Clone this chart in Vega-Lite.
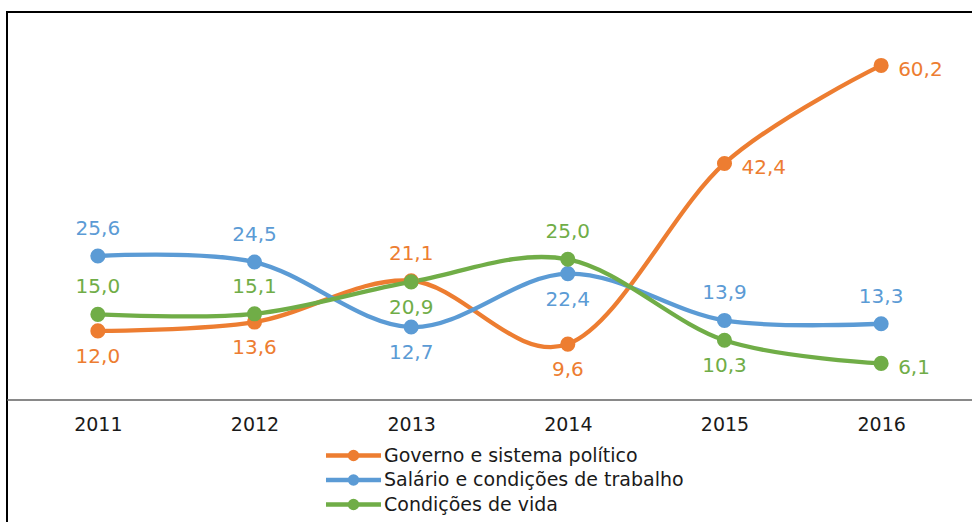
{
  "$schema": "https://vega.github.io/schema/vega-lite/v6.json",
  "width": 965,
  "height": 510,
  "autosize": "none",
  "padding": {"left": 7, "top": 12, "right": 0, "bottom": 0},
  "config": {
    "view": {"stroke": "#000000", "strokeWidth": 2, "strokeDash": [965, 1475, 520]},
    "font": "DejaVu Sans",
    "locale": {"number": {"decimal": ",", "thousands": ".", "grouping": [3], "currency": ["", ""]}}
  },
  "data": {
    "values": [
      {"serie": "Governo e sistema político", "ano": "2011", "valor": 12.0},
      {"serie": "Governo e sistema político", "ano": "2012", "valor": 13.6},
      {"serie": "Governo e sistema político", "ano": "2013", "valor": 21.1},
      {"serie": "Governo e sistema político", "ano": "2014", "valor": 9.6},
      {"serie": "Governo e sistema político", "ano": "2015", "valor": 42.4},
      {"serie": "Governo e sistema político", "ano": "2016", "valor": 60.2},
      {"serie": "Salário e condições de trabalho", "ano": "2011", "valor": 25.6},
      {"serie": "Salário e condições de trabalho", "ano": "2012", "valor": 24.5},
      {"serie": "Salário e condições de trabalho", "ano": "2013", "valor": 12.7},
      {"serie": "Salário e condições de trabalho", "ano": "2014", "valor": 22.4},
      {"serie": "Salário e condições de trabalho", "ano": "2015", "valor": 13.9},
      {"serie": "Salário e condições de trabalho", "ano": "2016", "valor": 13.3},
      {"serie": "Condições de vida", "ano": "2011", "valor": 15.0},
      {"serie": "Condições de vida", "ano": "2012", "valor": 15.1},
      {"serie": "Condições de vida", "ano": "2013", "valor": 20.9},
      {"serie": "Condições de vida", "ano": "2014", "valor": 25.0},
      {"serie": "Condições de vida", "ano": "2015", "valor": 10.3},
      {"serie": "Condições de vida", "ano": "2016", "valor": 6.1}
    ]
  },
  "encoding": {
    "x": {
      "field": "ano",
      "type": "ordinal",
      "scale": {"type": "point", "padding": 0.58},
      "axis": {
        "title": null,
        "orient": "bottom",
        "offset": -122.5,
        "labelAngle": 0,
        "ticks": false,
        "domainColor": "#898989",
        "domainWidth": 2,
        "labelFontSize": 19,
        "labelColor": "#1a1a1a",
        "labelPadding": 16,
        "grid": false
      }
    },
    "y": {
      "field": "valor",
      "type": "quantitative",
      "scale": {"domain": [-22.7, 69.9], "nice": false, "zero": false},
      "axis": null
    },
    "color": {
      "field": "serie",
      "type": "nominal",
      "scale": {
        "domain": ["Governo e sistema político", "Salário e condições de trabalho", "Condições de vida"],
        "range": ["#ED7D31", "#5B9BD5", "#70AD47"]
      },
      "legend": {
        "title": null,
        "orient": "none",
        "legendX": 337,
        "legendY": 434,
        "labelFontSize": 19,
        "labelColor": "#1a1a1a",
        "labelOffset": 21,
        "labelLimit": 0,
        "rowPadding": -2.5,
        "symbolType": "M-4.08,0H4.08M0.148,0A0.148,0.148 0 1,1 -0.148,0A0.148,0.148 0 1,1 0.148,0M0.519,0A0.519,0.519 0 1,1 -0.519,0A0.519,0.519 0 1,1 0.519,0",
        "symbolSize": 182,
        "symbolStrokeWidth": 4.5,
        "symbolOpacity": 1
      }
    }
  },
  "layer": [
    {"mark": {"type": "line", "interpolate": "cardinal", "strokeWidth": 4.3}},
    {"mark": {"type": "point", "filled": true, "size": 227, "opacity": 1}},
    {
      "transform": [{"filter": "indexof(['Governo e sistema político|2013','Salário e condições de trabalho|2011','Salário e condições de trabalho|2012','Salário e condições de trabalho|2015','Salário e condições de trabalho|2016','Condições de vida|2011','Condições de vida|2012','Condições de vida|2014'], datum.serie + '|' + datum.ano) >= 0"}],
      "mark": {"type": "text", "fontSize": 20, "baseline": "middle", "align": "center", "dy": -27},
      "encoding": {"text": {"field": "valor", "type": "quantitative", "format": ".1f"}}
    },
    {
      "transform": [{"filter": "indexof(['Governo e sistema político|2011','Governo e sistema político|2012','Governo e sistema político|2014','Salário e condições de trabalho|2013','Salário e condições de trabalho|2014','Condições de vida|2013','Condições de vida|2015'], datum.serie + '|' + datum.ano) >= 0"}],
      "mark": {"type": "text", "fontSize": 20, "baseline": "middle", "align": "center", "dy": 26},
      "encoding": {"text": {"field": "valor", "type": "quantitative", "format": ".1f"}}
    },
    {
      "transform": [{"filter": "indexof(['Governo e sistema político|2015','Governo e sistema político|2016','Condições de vida|2016'], datum.serie + '|' + datum.ano) >= 0"}],
      "mark": {"type": "text", "fontSize": 20, "baseline": "middle", "align": "left", "dx": 17, "dy": 5},
      "encoding": {"text": {"field": "valor", "type": "quantitative", "format": ".1f"}}
    }
  ]
}
